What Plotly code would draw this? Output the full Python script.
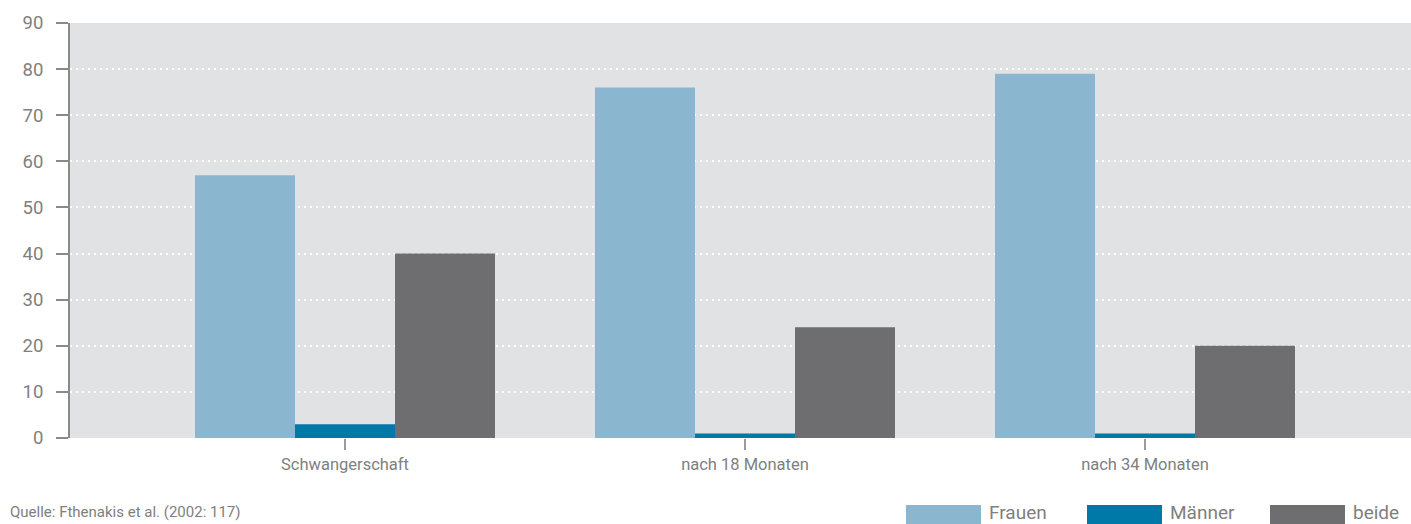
import plotly.graph_objects as go

categories = ["Schwangerschaft", "nach 18 Monaten", "nach 34 Monaten"]
frauen = [57, 76, 79]
maenner = [3, 1, 1]
beide = [40, 24, 20]
series_names = ["Frauen", "Männer", "beide"]
colors = ["#8bb6cf", "#0079a8", "#6e6e70"]
y_ticks = [0, 10, 20, 30, 40, 50, 60, 70, 80, 90]
source = "Quelle: Fthenakis et al. (2002: 117)"

FONT = "Roboto, Liberation Sans, sans-serif"
GREY = "#808080"

fig = go.Figure()
for name, vals, col in zip(series_names, [frauen, maenner, beide], colors):
    fig.add_trace(go.Bar(x=categories, y=vals, name=name, marker_color=col,
                         marker_line_width=0, showlegend=False))

fig.update_layout(
    width=1411, height=524,
    margin=dict(l=70, r=0, t=23, b=86),
    paper_bgcolor="white", plot_bgcolor="#e1e2e4",
    barmode="group", bargap=0.25, bargroupgap=0,
    font=dict(family=FONT, color=GREY, size=17),
)
fig.update_xaxes(range=[-0.6875, 2.665], showgrid=False, ticks="outside",
                 ticklen=11, tickcolor="#9a9a9a", tickwidth=2,
                 tickfont=dict(size=16.5, color=GREY), showline=False, zeroline=False)
fig.update_yaxes(range=[0, 90], tickvals=y_ticks, showgrid=True,
                 gridcolor="white", griddash="2px,4px", gridwidth=2,
                 ticks="outside", ticklen=12, tickcolor="#8a8a8a", tickwidth=2,
                 showline=True, linecolor="#8a8a8a", linewidth=2,
                 zeroline=False, ticklabelstandoff=9,
                 tickfont=dict(size=18.5, color=GREY))

# legend swatches (custom, wide)
leg_x = [906, 1087, 1270]
for lx, name, col in zip(leg_x, series_names, colors):
    fig.add_shape(type="rect", xref="paper", yref="paper",
                  x0=(lx - 70) / 1341, x1=(lx + 75 - 70) / 1341,
                  y0=(438 - 524) / 415, y1=(438 - 505) / 415,
                  fillcolor=col, line_width=0)
    fig.add_annotation(xref="paper", yref="paper",
                       x=(lx + 82 - 70) / 1341, y=(438 - 512) / 415,
                       text=name, showarrow=False, xanchor="left", yanchor="middle",
                       borderpad=0,
                       font=dict(size=19, color=GREY, family=FONT))

fig.add_annotation(xref="paper", yref="paper", x=-62 / 1341, y=(438 - 512) / 415,
                   text=source, showarrow=False, xanchor="left", yanchor="middle",
                   font=dict(size=15, color=GREY, family=FONT))

fig.write_html("out.html", config={"displayModeBar": False},
               post_script="document.body.style.margin='0';document.body.style.overflow='hidden';")
